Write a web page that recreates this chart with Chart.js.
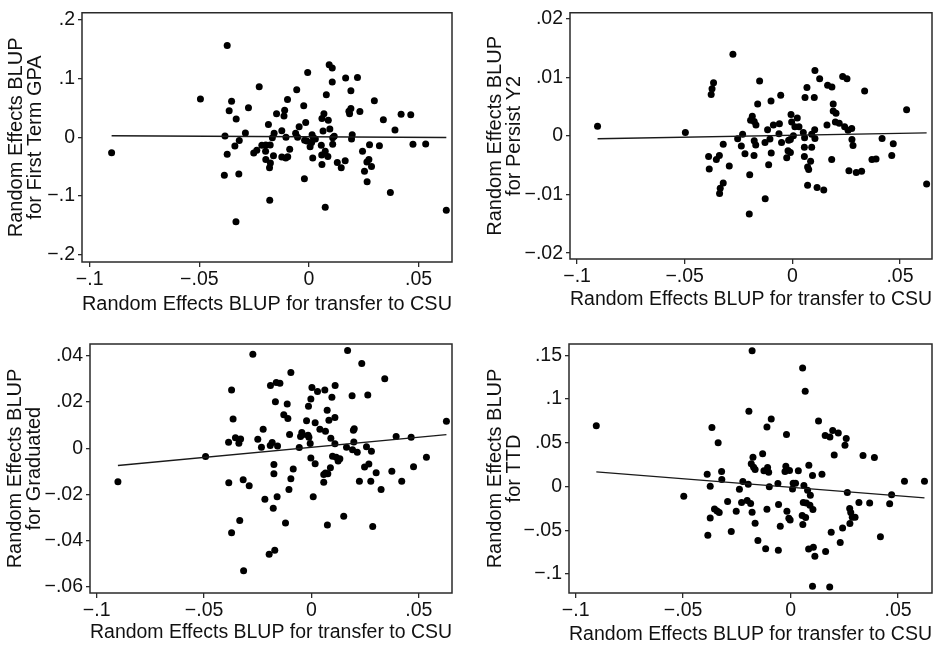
<!DOCTYPE html>
<html><head><meta charset="utf-8">
<script src="https://cdn.jsdelivr.net/npm/chart.js@4.4.0/dist/chart.umd.min.js"></script>
<style>
html,body{margin:0;padding:0;background:#fff;}
body{width:940px;height:649px;position:relative;overflow:hidden;}
canvas{position:absolute;}
</style></head><body>
<canvas id="c1" width="470" height="325" style="left:0;top:0"></canvas>
<canvas id="c2" width="470" height="325" style="left:470px;top:0"></canvas>
<canvas id="c3" width="470" height="324" style="left:0;top:325px"></canvas>
<canvas id="c4" width="470" height="324" style="left:470px;top:325px"></canvas>
<script>
// ---------- DATA ----------
const xTitle = 'Random Effects BLUP for transfer to CSU';
const xTickValues = [-0.1, -0.05, 0, 0.05];
const xTickLabels = ['\u2212.1', '\u2212.05', '0', '.05'];

// Panel 1: First Term GPA
const gpaTitle = ['Random Effects BLUP', 'for First Term GPA'];
const gpaTickValues = [-0.2, -0.1, 0, 0.1, 0.2];
const gpaTickLabels = ['\u2212.2', '\u2212.1', '0', '.1', '.2'];
const gpaX = [-0.090,-0.0495,-0.0373,-0.0353,-0.0364,-0.0332,-0.0276,-0.029,-0.0383,-0.0318,-0.0338,-0.0373,-0.0386,-0.032,-0.0333,-0.0227,-0.0185,-0.0148,-0.0098,-0.0111,-0.0114,-0.0124,-0.0159,-0.0167,-0.0177,-0.0197,-0.0215,-0.0238,-0.0252,-0.0198,-0.0162,-0.0197,-0.0176,-0.018,-0.0179,-0.0124,-0.0106,-0.0097,-0.0105,-0.0088,-0.0056,-0.0061,-0.0052,-0.0045,-0.0024,-0.0015,-0.0006,-0.002,-0.001,-0.0021,0.0005,0.0012,0.002,0.0029,0.0014,0.0017,0.0056,0.0058,0.0059,0.0064,0.0059,0.0068,0.0074,0.0086,0.0074,0.0079,0.0088,0.0095,0.0092,0.0106,0.0106,0.0108,0.0115,0.0108,0.0129,0.0147,0.0165,0.0167,0.0191,0.0185,0.0191,0.0182,0.0197,0.0194,0.0221,0.0232,0.0244,0.0253,0.0264,0.0273,0.0276,0.0285,0.0265,0.0298,0.0321,0.0339,0.0371,0.0392,0.042,0.0464,0.0474,0.0532,0.0626];
const gpaY = [-0.0265,0.065,0.156,0.061,0.045,0.031,0.050,0.007,0.002,-0.0055,-0.015,-0.029,-0.0646,-0.0624,-0.1436,0.0856,0.0215,0.040,0.064,0.046,0.036,0.011,0.0066,-0.001,-0.013,-0.013,-0.0138,-0.022,-0.027,-0.024,-0.0315,-0.038,-0.044,-0.052,-0.107,-0.0337,-0.0354,-0.033,0,-0.0204,0.0807,0.0066,0,0.018,0.0536,0.0249,0.110,-0.005,-0.0066,-0.0707,-0.016,-0.009,-0.001,-0.003,0.0044,-0.0354,-0.0138,-0.030,-0.0464,0.0105,0.032,0.040,-0.024,-0.0326,-0.119,0.0724,0.029,0.0138,0.123,0.1177,0.094,-0.001,0.0017,-0.012,-0.043,-0.052,-0.040,0.1006,0.079,0.040,0.049,0.044,0.0044,-0.003,0.1017,0.0436,-0.024,-0.058,-0.042,-0.038,-0.0127,-0.0497,-0.0757,0.0619,-0.0144,0.0298,-0.094,0.0122,0.0392,0.038,-0.012,-0.0116,-0.1243];
const gpaFitX = [-0.090, 0.0626];
const gpaFitY = [0.0025, -0.0005];

// Panel 2: Persist Y2
const persistTitle = ['Random Effects BLUP', 'for Persist Y2'];
const persistTickValues = [-0.02, -0.01, 0, 0.01, 0.02];
const persistTickLabels = ['\u2212.02', '\u2212.01', '0', '.01', '.02'];
const persistX = [-0.0905,-0.0497,-0.0276,-0.0366,-0.0373,-0.0377,-0.0389,-0.0386,-0.0353,-0.0339,-0.0321,-0.0335,-0.0321,-0.0338,-0.0293,-0.0254,-0.0231,-0.0237,-0.022,-0.0198,-0.02,-0.0194,-0.0186,-0.0177,-0.0169,-0.0177,-0.017,-0.0178,-0.0161,-0.0152,-0.0127,-0.0126,-0.0115,-0.0104,-0.011,-0.0098,-0.0099,-0.0088,-0.006,-0.0054,-0.0062,-0.005,-0.0026,-0.002,-0.0017,-0.0009,-0.0006,-0.0003,-0.0009,0.0012,0.0023,0.0031,0.0005,0.0051,0.0057,0.0056,0.0056,0.0059,0.0068,0.0071,0.0076,0.0071,0.0085,0.009,0.009,0.0104,0.0105,0.0102,0.0105,0.0127,0.0115,0.0146,0.0161,0.0164,0.0184,0.0183,0.019,0.019,0.0203,0.02,0.0218,0.0234,0.0254,0.0243,0.0259,0.0276,0.0277,0.0282,0.0263,0.0297,0.0322,0.0336,0.037,0.0389,0.0417,0.0462,0.0469,0.0531,0.0624];
const persistY = [0.0017,0.0006,0.014,0.0091,0.0081,0.0071,-0.0035,-0.0056,-0.004,-0.0033,-0.0014,-0.0089,-0.008,-0.0098,-0.0051,-0.00045,0.0003,-0.0017,-0.003,-0.0066,-0.0133,0.0027,0.0034,0.0025,0.0019,-0.0008,-0.0015,-0.0033,0.0055,0.0094,-0.0011,-0.0107,0.0011,-0.0005,-0.0049,-0.0029,0.006,0.0019,0.0021,0.007,0.0004,-0.0011,-0.0037,-0.0025,-0.0007,-0.0028,0.0037,0.0024,-0.0006,0.0016,0.0031,0.0016,0.00006,0.0006,-0.0003,-0.0019,-0.0035,0.0066,0.0083,-0.0053,-0.0057,-0.0084,-0.0043,-0.0019,0.0003,0.0011,-0.0004,0.0066,0.0112,0.0098,-0.0088,-0.0092,0.0019,0.0087,0.0084,-0.004,0.0055,0.0043,0.0039,0.0024,0.0022,0.0102,0.0098,0.0016,0.001,0.0013,-0.0006,-0.0016,-0.0059,-0.0062,-0.006,0.0077,-0.004,-0.0039,-0.0004,-0.0033,-0.0013,0.0045,-0.0082];
const persistFitX = [-0.0905, 0.0624];
const persistFitY = [-0.00045, 0.00056];

// Panel 3: Graduated
const gradTitle = ['Random Effects BLUP', 'for Graduated'];
const gradTickValues = [-0.06, -0.04, -0.02, 0, 0.02, 0.04];
const gradTickLabels = ['\u2212.06', '\u2212.04', '\u2212.02', '0', '.02', '.04'];
const gradX = [-0.0901,-0.0493,-0.0273,-0.0372,-0.0365,-0.0386,-0.0354,-0.0338,-0.033,-0.0385,-0.0372,-0.0334,-0.0318,-0.029,-0.0316,-0.025,-0.0233,-0.0225,-0.0217,-0.0191,-0.0192,-0.0183,-0.0178,-0.0197,-0.0171,-0.0175,-0.0175,-0.0168,-0.0164,-0.0147,-0.0158,-0.016,-0.0129,-0.0113,-0.011,-0.0121,-0.0105,-0.0102,-0.0096,-0.0096,-0.0085,-0.0057,-0.0051,-0.0045,-0.0042,-0.0023,-0.0016,-0.0012,-0.0014,-0.0003,0.0002,-0.0006,-0.0003,0.0008,0.0017,0.0017,0.0028,0.0039,0.0062,0.0065,0.0057,0.0057,0.0065,0.0076,0.0073,0.0081,0.0074,0.009,0.0088,0.0095,0.0098,0.0109,0.011,0.0115,0.0109,0.0124,0.0132,0.015,0.0163,0.0168,0.0189,0.0191,0.0195,0.0199,0.0197,0.0213,0.0223,0.0234,0.0247,0.0256,0.0262,0.0267,0.0279,0.0276,0.0285,0.0301,0.0324,0.0341,0.0374,0.0394,0.042,0.0464,0.0475,0.0535,0.0628];
const gradY = [-0.0145,-0.0036,0.0408,0.0253,0.0127,0.0026,0.0045,0.0022,0.004,-0.015,-0.0367,-0.0314,-0.0137,-0.0163,-0.0532,0.0039,0.0004,0.0082,-0.0221,0.0272,0.0012,0.0025,-0.026,-0.046,-0.0443,-0.0071,-0.0111,0.0202,0.0285,0.0282,0.001,-0.0211,0.0145,0.0192,0.0129,-0.0324,-0.0179,0.0059,0.0328,-0.0132,-0.009,0.0003,0.0051,0.0068,0.0058,0.0119,0.0056,0.0048,0.0182,0.0213,0.0263,0.002,-0.0042,-0.0211,0.011,-0.0067,0.0246,0.0082,0.0252,0.0074,-0.0114,-0.0148,-0.0108,-0.0111,0.0165,0.0121,-0.0333,0.0043,-0.0085,0.0221,-0.0035,0.0133,0.0272,-0.0039,0.0019,-0.0056,-0.0046,-0.0295,0.0004,0.0424,0.0228,-0.0007,0.0078,0.0084,0.0027,-0.0017,-0.0143,0.0367,-0.0081,0.0006,0.0231,-0.0069,-0.0013,-0.0143,-0.034,-0.0106,-0.0179,0.0301,-0.01,0.0051,-0.0143,0.0048,-0.008,-0.0039,0.0117];
const gradFitX = [-0.0901, 0.0628];
const gradFitY = [-0.0075, 0.0059];

// Panel 4: TTD
const ttdTitle = ['Random Effects BLUP', 'for TTD'];
const ttdTickValues = [-0.1, -0.05, 0, 0.05, 0.1, 0.15];
const ttdTickLabels = ['\u2212.1', '\u2212.05', '0', '.05', '.1', '.15'];
const ttdX = [-0.0904,-0.0497,-0.0388,-0.0366,-0.0374,-0.0337,-0.0321,-0.032,-0.0354,-0.0342,-0.0332,-0.0374,-0.0385,-0.0293,-0.0276,-0.0253,-0.0238,-0.0222,-0.0228,-0.0202,-0.0197,-0.0186,-0.0194,-0.0183,-0.0175,-0.0172,-0.0165,-0.0179,-0.0165,-0.0152,-0.013,-0.0124,-0.0107,-0.0102,-0.011,-0.009,-0.0099,-0.011,-0.0116,-0.0059,-0.0056,-0.0048,-0.0057,-0.0019,-0.0022,-0.0026,-0.0005,-0.0017,-0.0008,-0.0002,0.0009,0.0012,0.0023,0.0036,0.0056,0.0068,0.0062,0.0059,0.0054,0.0057,0.0073,0.007,0.0079,0.0085,0.0092,0.0084,0.0106,0.009,0.0104,0.0102,0.0113,0.0102,0.013,0.0146,0.0161,0.0183,0.0196,0.0203,0.0222,0.0163,0.0189,0.0182,0.0231,0.0242,0.0253,0.0259,0.0264,0.0275,0.028,0.0287,0.0276,0.03,0.0318,0.0337,0.0368,0.039,0.0418,0.0461,0.047,0.053,0.0623,-0.0179];
const ttdY = [0.0695,-0.0111,0.0141,0.0676,0.0004,0.05,0.0172,0.008,-0.0256,-0.0279,-0.0298,-0.0359,-0.0557,-0.0172,-0.0515,-0.0282,-0.0031,0.0057,-0.0183,-0.016,0.0027,-0.0195,0.0859,0.026,0.0336,0.0221,0.0195,-0.0294,-0.042,-0.0618,0.0374,0.0179,0.0218,0.0164,0.0679,0.0771,-0.0004,-0.026,-0.071,0.0034,-0.0206,-0.0454,-0.0729,0.0595,0.0233,0.0172,0.0183,-0.0282,-0.0363,-0.0382,-0.0027,0.0038,0.0038,0.0179,0.1355,0.1088,0.0011,-0.0183,-0.0332,-0.0435,-0.0187,-0.0355,-0.0042,0.0244,-0.0099,-0.0714,-0.0695,-0.0214,-0.0263,0.0126,-0.0798,-0.1141,0.0748,0.0141,0.0584,0.0565,0.0641,0.0359,0.0611,-0.0744,-0.0523,-0.1149,-0.0641,-0.0473,0.0473,0.055,-0.0069,-0.0252,-0.0298,-0.0351,-0.0424,-0.0351,-0.0183,0.0355,-0.0187,0.0332,-0.0573,-0.0198,-0.0095,0.0061,0.0061,0.1553];
const ttdFitX = [-0.0904, 0.0623];
const ttdFitY = [0.0168, -0.013];

// ---------- RENDER ----------
Chart.defaults.font.family = '"Liberation Sans", Arial, Helvetica, sans-serif';
Chart.defaults.color = '#111';

const boxPlugin = {
  id: 'plotBox',
  afterDatasetsDraw(chart) {
    const {ctx, chartArea: a} = chart;
    ctx.save();
    ctx.strokeStyle = '#2a2a2a';
    ctx.lineWidth = 1.5;
    ctx.strokeRect(a.left, a.top, a.right - a.left, a.bottom - a.top);
    ctx.restore();
  }
};

function pairs(xs, ys) {
  const n = Math.min(xs.length, ys.length);
  const out = [];
  for (let i = 0; i < n; i++) out.push({x: xs[i], y: ys[i]});
  return out;
}

function makePanel(id, p) {
  const canvas = document.getElementById(id);
  const W = canvas.width, H = canvas.height;
  new Chart(canvas, {
    type: 'scatter',
    data: {
      datasets: [
        { data: pairs(p.xs, p.ys), pointRadius: 3.5, pointHoverRadius: 3.5,
          backgroundColor: '#000', borderWidth: 0, order: 2 },
        { data: pairs(p.fitX, p.fitY), showLine: true, pointRadius: 0,
          borderColor: '#1a1a1a', borderWidth: 1.4, fill: false, order: 1 }
      ]
    },
    options: {
      responsive: false, animation: false, devicePixelRatio: 1,
      events: [],
      layout: { padding: { top: p.area.top, right: W - p.area.right, left: 0, bottom: 0 } },
      plugins: { legend: { display: false }, tooltip: { enabled: false } },
      scales: {
        x: {
          type: 'linear', position: 'bottom', min: p.xmin, max: p.xmax,
          afterBuildTicks: s => { s.ticks = xTickValues.map(v => ({value: v})); },
          afterFit: s => { s.height = H - p.area.bottom; },
          ticks: { callback: (v, i) => xTickLabels[i], font: { size: 19.5, lineHeight: 1 }, color: '#111', padding: 3, maxRotation: 0, autoSkip: false },
          grid: { display: true, drawOnChartArea: false, drawTicks: true, tickLength: 5, color: '#2a2a2a', lineWidth: 1.3 },
          border: { display: false },
          title: { display: true, text: xTitle, font: { size: 20, lineHeight: 1 }, color: '#111', padding: { top: 0, bottom: p.xTitlePad } }
        },
        y: {
          type: 'linear', position: 'left', min: p.ymin, max: p.ymax,
          afterBuildTicks: s => { s.ticks = p.yTicks.map(v => ({value: v})); },
          afterFit: s => { s.width = p.area.left; },
          ticks: { callback: (v, i) => p.yLabels[i], font: { size: 19.5, lineHeight: 1 }, color: '#111', padding: 3, autoSkip: false },
          grid: { display: true, drawOnChartArea: false, drawTicks: true, tickLength: 4, color: '#2a2a2a', lineWidth: 1.3 },
          border: { display: false },
          title: { display: true, text: p.yTitle, font: { size: 20, lineHeight: 0.95 }, color: '#111', padding: { top: p.yTitlePad, bottom: 0 } }
        }
      }
    },
    plugins: [boxPlugin]
  });
}

makePanel('c1', { xs: gpaX, ys: gpaY, fitX: gpaFitX, fitY: gpaFitY,
  yTicks: gpaTickValues, yLabels: gpaTickLabels, yTitle: gpaTitle,
  xmin: -0.1035, xmax: 0.0652, ymin: -0.2121, ymax: 0.2116,
  area: { left: 82, top: 6, right: 452, bottom: 262 }, yTitlePad: 6.5, xTitlePad: 11 });

makePanel('c2', { xs: persistX, ys: persistY, fitX: persistFitX, fitY: persistFitY,
  yTicks: persistTickValues, yLabels: persistTickLabels, yTitle: persistTitle,
  xmin: -0.1033, xmax: 0.0649, ymin: -0.0210, ymax: 0.02108,
  area: { left: 100, top: 9, right: 462, bottom: 259 }, yTitlePad: 16.3, xTitlePad: 15.3 });

makePanel('c3', { xs: gradX, ys: gradY, fitX: gradFitX, fitY: gradFitY,
  yTicks: gradTickValues, yLabels: gradTickLabels, yTitle: gradTitle,
  xmin: -0.1031, xmax: 0.0654, ymin: -0.0628, ymax: 0.0452,
  area: { left: 90, top: 19, right: 452, bottom: 268 }, yTitlePad: 6, xTitlePad: 6.5 });

makePanel('c4', { xs: ttdX, ys: ttdY, fitX: ttdFitX, fitY: ttdFitY,
  yTicks: ttdTickValues, yLabels: ttdTickLabels, yTitle: ttdTitle,
  xmin: -0.1031, xmax: 0.0658, ymin: -0.1217, ymax: 0.1629,
  area: { left: 99, top: 19, right: 462, bottom: 268 }, yTitlePad: 16, xTitlePad: 4.5 });
</script>
</body></html>
